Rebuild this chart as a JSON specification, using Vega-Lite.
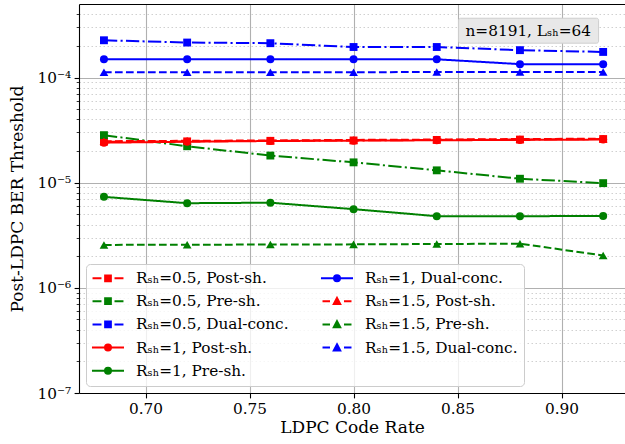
{
  "$schema": "https://vega.github.io/schema/vega-lite/v6.json",
  "width": 546,
  "height": 389,
  "autosize": {"type": "none"},
  "padding": {"left": 79, "top": 4, "right": 0, "bottom": 51},
  "background": "white",
  "config": {
    "font": "DejaVu Serif",
    "view": {"stroke": null},
    "axis": {
      "labelFont": "DejaVu Serif",
      "labelFontSize": 15.3,
      "labelColor": "#000",
      "titleFont": "DejaVu Serif",
      "titleFontSize": 17,
      "titleFontWeight": "normal",
      "titleColor": "#000",
      "domainColor": "#000",
      "domainWidth": 1.1,
      "tickColor": "#000",
      "tickWidth": 1.1,
      "tickSize": 4.9,
      "labelPadding": 3.5,
      "gridColor": "#b0b0b0",
      "gridWidth": 1.1
    }
  },
  "data": {
    "values": [
      {"series": "Rₛₕ=0.5, Post-sh.", "rate": 0.68, "ber": 2.45e-5},
      {"series": "Rₛₕ=0.5, Post-sh.", "rate": 0.72, "ber": 2.47e-5},
      {"series": "Rₛₕ=0.5, Post-sh.", "rate": 0.76, "ber": 2.50e-5},
      {"series": "Rₛₕ=0.5, Post-sh.", "rate": 0.80, "ber": 2.52e-5},
      {"series": "Rₛₕ=0.5, Post-sh.", "rate": 0.84, "ber": 2.55e-5},
      {"series": "Rₛₕ=0.5, Post-sh.", "rate": 0.88, "ber": 2.57e-5},
      {"series": "Rₛₕ=0.5, Post-sh.", "rate": 0.92, "ber": 2.60e-5},
      {"series": "Rₛₕ=0.5, Pre-sh.", "rate": 0.68, "ber": 2.83e-5},
      {"series": "Rₛₕ=0.5, Pre-sh.", "rate": 0.72, "ber": 2.22e-5},
      {"series": "Rₛₕ=0.5, Pre-sh.", "rate": 0.76, "ber": 1.81e-5},
      {"series": "Rₛₕ=0.5, Pre-sh.", "rate": 0.80, "ber": 1.56e-5},
      {"series": "Rₛₕ=0.5, Pre-sh.", "rate": 0.84, "ber": 1.31e-5},
      {"series": "Rₛₕ=0.5, Pre-sh.", "rate": 0.88, "ber": 1.09e-5},
      {"series": "Rₛₕ=0.5, Pre-sh.", "rate": 0.92, "ber": 0.99e-5},
      {"series": "Rₛₕ=0.5, Dual-conc.", "rate": 0.68, "ber": 2.26e-4},
      {"series": "Rₛₕ=0.5, Dual-conc.", "rate": 0.72, "ber": 2.15e-4},
      {"series": "Rₛₕ=0.5, Dual-conc.", "rate": 0.76, "ber": 2.12e-4},
      {"series": "Rₛₕ=0.5, Dual-conc.", "rate": 0.80, "ber": 1.95e-4},
      {"series": "Rₛₕ=0.5, Dual-conc.", "rate": 0.84, "ber": 1.95e-4},
      {"series": "Rₛₕ=0.5, Dual-conc.", "rate": 0.88, "ber": 1.82e-4},
      {"series": "Rₛₕ=0.5, Dual-conc.", "rate": 0.92, "ber": 1.75e-4},
      {"series": "Rₛₕ=1, Post-sh.", "rate": 0.68, "ber": 2.40e-5},
      {"series": "Rₛₕ=1, Post-sh.", "rate": 0.72, "ber": 2.45e-5},
      {"series": "Rₛₕ=1, Post-sh.", "rate": 0.76, "ber": 2.49e-5},
      {"series": "Rₛₕ=1, Post-sh.", "rate": 0.80, "ber": 2.51e-5},
      {"series": "Rₛₕ=1, Post-sh.", "rate": 0.84, "ber": 2.53e-5},
      {"series": "Rₛₕ=1, Post-sh.", "rate": 0.88, "ber": 2.55e-5},
      {"series": "Rₛₕ=1, Post-sh.", "rate": 0.92, "ber": 2.57e-5},
      {"series": "Rₛₕ=1, Pre-sh.", "rate": 0.68, "ber": 7.33e-6},
      {"series": "Rₛₕ=1, Pre-sh.", "rate": 0.72, "ber": 6.38e-6},
      {"series": "Rₛₕ=1, Pre-sh.", "rate": 0.76, "ber": 6.45e-6},
      {"series": "Rₛₕ=1, Pre-sh.", "rate": 0.80, "ber": 5.60e-6},
      {"series": "Rₛₕ=1, Pre-sh.", "rate": 0.84, "ber": 4.80e-6},
      {"series": "Rₛₕ=1, Pre-sh.", "rate": 0.88, "ber": 4.80e-6},
      {"series": "Rₛₕ=1, Pre-sh.", "rate": 0.92, "ber": 4.82e-6},
      {"series": "Rₛₕ=1, Dual-conc.", "rate": 0.68, "ber": 1.49e-4},
      {"series": "Rₛₕ=1, Dual-conc.", "rate": 0.72, "ber": 1.49e-4},
      {"series": "Rₛₕ=1, Dual-conc.", "rate": 0.76, "ber": 1.49e-4},
      {"series": "Rₛₕ=1, Dual-conc.", "rate": 0.80, "ber": 1.49e-4},
      {"series": "Rₛₕ=1, Dual-conc.", "rate": 0.84, "ber": 1.49e-4},
      {"series": "Rₛₕ=1, Dual-conc.", "rate": 0.88, "ber": 1.34e-4},
      {"series": "Rₛₕ=1, Dual-conc.", "rate": 0.92, "ber": 1.34e-4},
      {"series": "Rₛₕ=1.5, Post-sh.", "rate": 0.68, "ber": 2.48e-5},
      {"series": "Rₛₕ=1.5, Post-sh.", "rate": 0.72, "ber": 2.50e-5},
      {"series": "Rₛₕ=1.5, Post-sh.", "rate": 0.76, "ber": 2.52e-5},
      {"series": "Rₛₕ=1.5, Post-sh.", "rate": 0.80, "ber": 2.55e-5},
      {"series": "Rₛₕ=1.5, Post-sh.", "rate": 0.84, "ber": 2.57e-5},
      {"series": "Rₛₕ=1.5, Post-sh.", "rate": 0.88, "ber": 2.60e-5},
      {"series": "Rₛₕ=1.5, Post-sh.", "rate": 0.92, "ber": 2.62e-5},
      {"series": "Rₛₕ=1.5, Pre-sh.", "rate": 0.68, "ber": 2.56e-6},
      {"series": "Rₛₕ=1.5, Pre-sh.", "rate": 0.72, "ber": 2.57e-6},
      {"series": "Rₛₕ=1.5, Pre-sh.", "rate": 0.76, "ber": 2.58e-6},
      {"series": "Rₛₕ=1.5, Pre-sh.", "rate": 0.80, "ber": 2.59e-6},
      {"series": "Rₛₕ=1.5, Pre-sh.", "rate": 0.84, "ber": 2.61e-6},
      {"series": "Rₛₕ=1.5, Pre-sh.", "rate": 0.88, "ber": 2.63e-6},
      {"series": "Rₛₕ=1.5, Pre-sh.", "rate": 0.92, "ber": 2.03e-6},
      {"series": "Rₛₕ=1.5, Dual-conc.", "rate": 0.68, "ber": 1.12e-4},
      {"series": "Rₛₕ=1.5, Dual-conc.", "rate": 0.72, "ber": 1.12e-4},
      {"series": "Rₛₕ=1.5, Dual-conc.", "rate": 0.76, "ber": 1.12e-4},
      {"series": "Rₛₕ=1.5, Dual-conc.", "rate": 0.80, "ber": 1.12e-4},
      {"series": "Rₛₕ=1.5, Dual-conc.", "rate": 0.84, "ber": 1.13e-4},
      {"series": "Rₛₕ=1.5, Dual-conc.", "rate": 0.88, "ber": 1.13e-4},
      {"series": "Rₛₕ=1.5, Dual-conc.", "rate": 0.92, "ber": 1.13e-4}
    ]
  },
  "resolve": {"axis": {"x": "independent", "y": "independent"}},
  "layer": [
    {
      "mark": {"type": "line", "strokeWidth": 2},
      "encoding": {
        "x": {"field": "rate", "type": "quantitative",
          "scale": {"domain": [0.668, 0.9305], "nice": false, "zero": false},
          "axis": {"orient": "bottom", "values": [0.7, 0.75, 0.8, 0.85, 0.9], "format": ".2f", "title": "LDPC Code Rate", "grid": true, "titlePadding": 2.5}},
        "y": {"field": "ber", "type": "quantitative",
          "scale": {"type": "log", "domain": [1e-7, 5e-4], "nice": false},
          "axis": {"orient": "left", "values": [1e-7, 1e-6, 1e-5, 1e-4], "grid": true, "title": "Post-LDPC BER Threshold", "titlePadding": 10,
            "labelExpr": "'10' + ['', '⁻¹', '⁻²', '⁻³', '⁻⁴', '⁻⁵', '⁻⁶', '⁻⁷'][round(-log(datum.value)/LN10)]"}},
        "color": {"field": "series", "type": "nominal", "legend": null,
          "scale": {"domain": ["Rₛₕ=0.5, Post-sh.", "Rₛₕ=1, Dual-conc.", "Rₛₕ=0.5, Pre-sh.", "Rₛₕ=1.5, Post-sh.", "Rₛₕ=0.5, Dual-conc.", "Rₛₕ=1.5, Pre-sh.", "Rₛₕ=1, Post-sh.", "Rₛₕ=1.5, Dual-conc.", "Rₛₕ=1, Pre-sh."],
            "range": ["#ff0000", "#0000ff", "#008000", "#ff0000", "#0000ff", "#008000", "#ff0000", "#0000ff", "#008000"]}},
        "strokeDash": {"field": "series", "type": "nominal", "legend": null,
          "scale": {"domain": ["Rₛₕ=0.5, Post-sh.", "Rₛₕ=1, Dual-conc.", "Rₛₕ=0.5, Pre-sh.", "Rₛₕ=1.5, Post-sh.", "Rₛₕ=0.5, Dual-conc.", "Rₛₕ=1.5, Pre-sh.", "Rₛₕ=1, Post-sh.", "Rₛₕ=1.5, Dual-conc.", "Rₛₕ=1, Pre-sh."],
            "range": [[13.3, 3.3, 2.1, 3.3], [1, 0], [13.3, 3.3, 2.1, 3.3], [7.7, 3.3], [13.3, 3.3, 2.1, 3.3], [7.7, 3.3], [1, 0], [7.7, 3.3], [1, 0]]}}
      }
    },
    {
      "transform": [{"filter": "indexof(datum.series, '=0.5,') >= 0"}],
      "mark": {"type": "point", "filled": true, "shape": "square", "size": 62, "opacity": 1},
      "encoding": {
        "x": {"field": "rate", "type": "quantitative",
          "axis": {"orient": "top", "labels": false, "ticks": false, "grid": false, "domain": true, "title": null}},
        "y": {"field": "ber", "type": "quantitative",
          "axis": {"orient": "left", "labels": false, "title": null, "domain": false, "tickSize": 2.8, "tickWidth": 0.8, "grid": true, "gridDash": [1.5, 2.5], "gridColor": "#c4c4c4", "gridWidth": 0.8,
            "values": [2e-7, 3e-7, 4e-7, 5e-7, 6e-7, 7e-7, 8e-7, 9e-7, 2e-6, 3e-6, 4e-6, 5e-6, 6e-6, 7e-6, 8e-6, 9e-6, 2e-5, 3e-5, 4e-5, 5e-5, 6e-5, 7e-5, 8e-5, 9e-5, 2e-4, 3e-4, 4e-4]}},
        "color": {"field": "series", "type": "nominal", "legend": null}
      }
    },
    {
      "transform": [{"filter": "indexof(datum.series, '=1,') >= 0"}],
      "mark": {"type": "point", "filled": true, "shape": "circle", "size": 64, "opacity": 1},
      "encoding": {
        "x": {"field": "rate", "type": "quantitative", "axis": null},
        "y": {"field": "ber", "type": "quantitative", "axis": null},
        "color": {"field": "series", "type": "nominal", "legend": null}
      }
    },
    {
      "transform": [{"filter": "indexof(datum.series, '=1.5,') >= 0"}],
      "mark": {"type": "point", "filled": true, "shape": "triangle-up", "size": 76, "opacity": 1},
      "encoding": {
        "x": {"field": "rate", "type": "quantitative", "axis": null},
        "y": {"field": "ber", "type": "quantitative", "axis": null},
        "color": {"field": "series", "type": "nominal", "legend": null}
      }
    },
    {
      "transform": [{"filter": "datum.ber < 0"}],
      "mark": {"type": "point", "filled": true, "opacity": 1},
      "encoding": {
        "x": {"field": "rate", "type": "quantitative", "axis": null},
        "y": {"field": "ber", "type": "quantitative", "axis": null},
        "fill": {"field": "series", "type": "nominal",
          "scale": {"domain": ["Rₛₕ=0.5, Post-sh.", "Rₛₕ=0.5, Pre-sh.", "Rₛₕ=0.5, Dual-conc.", "Rₛₕ=1, Post-sh.", "Rₛₕ=1, Pre-sh.", "Rₛₕ=1, Dual-conc.", "Rₛₕ=1.5, Post-sh.", "Rₛₕ=1.5, Pre-sh.", "Rₛₕ=1.5, Dual-conc."],
            "range": ["#ff0000", "#008000", "#0000ff", "#ff0000", "#008000", "#0000ff", "#ff0000", "#008000", "#0000ff"]},
          "legend": {"title": null, "orient": "bottom-left", "offset": 7, "columns": 2, "columnPadding": 27, "rowPadding": 6.2, "padding": 6,
            "symbolSize": 196, "symbolStrokeWidth": 2, "symbolOpacity": 1, "labelOffset": 28, "labelFont": "DejaVu Serif", "labelFontSize": 15.3, "labelColor": "#000", "labelLimit": 300,
            "fillColor": "rgba(255,255,255,0.8)", "strokeColor": "#cccccc", "cornerRadius": 4}},
        "stroke": {"field": "series", "type": "nominal",
          "scale": {"domain": ["Rₛₕ=0.5, Post-sh.", "Rₛₕ=0.5, Pre-sh.", "Rₛₕ=0.5, Dual-conc.", "Rₛₕ=1, Post-sh.", "Rₛₕ=1, Pre-sh.", "Rₛₕ=1, Dual-conc.", "Rₛₕ=1.5, Post-sh.", "Rₛₕ=1.5, Pre-sh.", "Rₛₕ=1.5, Dual-conc."],
            "range": ["#ff0000", "#008000", "#0000ff", "#ff0000", "#008000", "#0000ff", "#ff0000", "#008000", "#0000ff"]},
          "legend": {"title": null}},
        "shape": {"field": "series", "type": "nominal",
          "scale": {"domain": ["Rₛₕ=0.5, Post-sh.", "Rₛₕ=0.5, Pre-sh.", "Rₛₕ=0.5, Dual-conc.", "Rₛₕ=1, Post-sh.", "Rₛₕ=1, Pre-sh.", "Rₛₕ=1, Dual-conc.", "Rₛₕ=1.5, Post-sh.", "Rₛₕ=1.5, Pre-sh.", "Rₛₕ=1.5, Dual-conc."],
            "range": [
              "M-1.067,0H0.213M2.073,0H3.353M0.733,-0.41H1.553V0.41H0.733Z",
              "M-1.067,0H0.213M2.073,0H3.353M0.733,-0.41H1.553V0.41H0.733Z",
              "M-1.067,0H0.213M2.073,0H3.353M0.733,-0.41H1.553V0.41H0.733Z",
              "M-1.147,0H3.433M1.573,0A0.43,0.43,0,1,1,0.713,0A0.43,0.43,0,1,1,1.573,0Z",
              "M-1.147,0H3.433M1.573,0A0.43,0.43,0,1,1,0.713,0A0.43,0.43,0,1,1,1.573,0Z",
              "M-1.147,0H3.433M1.573,0A0.43,0.43,0,1,1,0.713,0A0.43,0.43,0,1,1,1.573,0Z",
              "M-0.927,0H0.143M2.143,0H3.213M1.143,-0.47L1.603,0.4L0.683,0.4Z",
              "M-0.927,0H0.143M2.143,0H3.213M1.143,-0.47L1.603,0.4L0.683,0.4Z",
              "M-0.927,0H0.143M2.143,0H3.213M1.143,-0.47L1.603,0.4L0.683,0.4Z"
            ]},
          "legend": {"title": null}}
      }
    },
    {
      "data": {"values": [{"label": "n=8191, Lₛₕ=64"}]},
      "mark": {"type": "rect", "fill": "#e8e8e8", "stroke": "#cfcfcf", "strokeWidth": 1, "cornerRadius": 2},
      "encoding": {
        "x": {"datum": 0.8505, "type": "quantitative", "axis": null},
        "x2": {"datum": 0.9178},
        "y": {"datum": 3.66e-4, "type": "quantitative", "axis": null},
        "y2": {"datum": 2.12e-4}
      }
    },
    {
      "data": {"values": [{"label": "n=8191, Lₛₕ=64"}]},
      "mark": {"type": "text", "font": "DejaVu Serif", "fontSize": 15.3, "color": "#000", "align": "center", "baseline": "middle"},
      "encoding": {
        "x": {"datum": 0.884, "type": "quantitative", "axis": null},
        "y": {"datum": 2.79e-4, "type": "quantitative", "axis": null},
        "text": {"field": "label", "type": "nominal"}
      }
    }
  ]
}
